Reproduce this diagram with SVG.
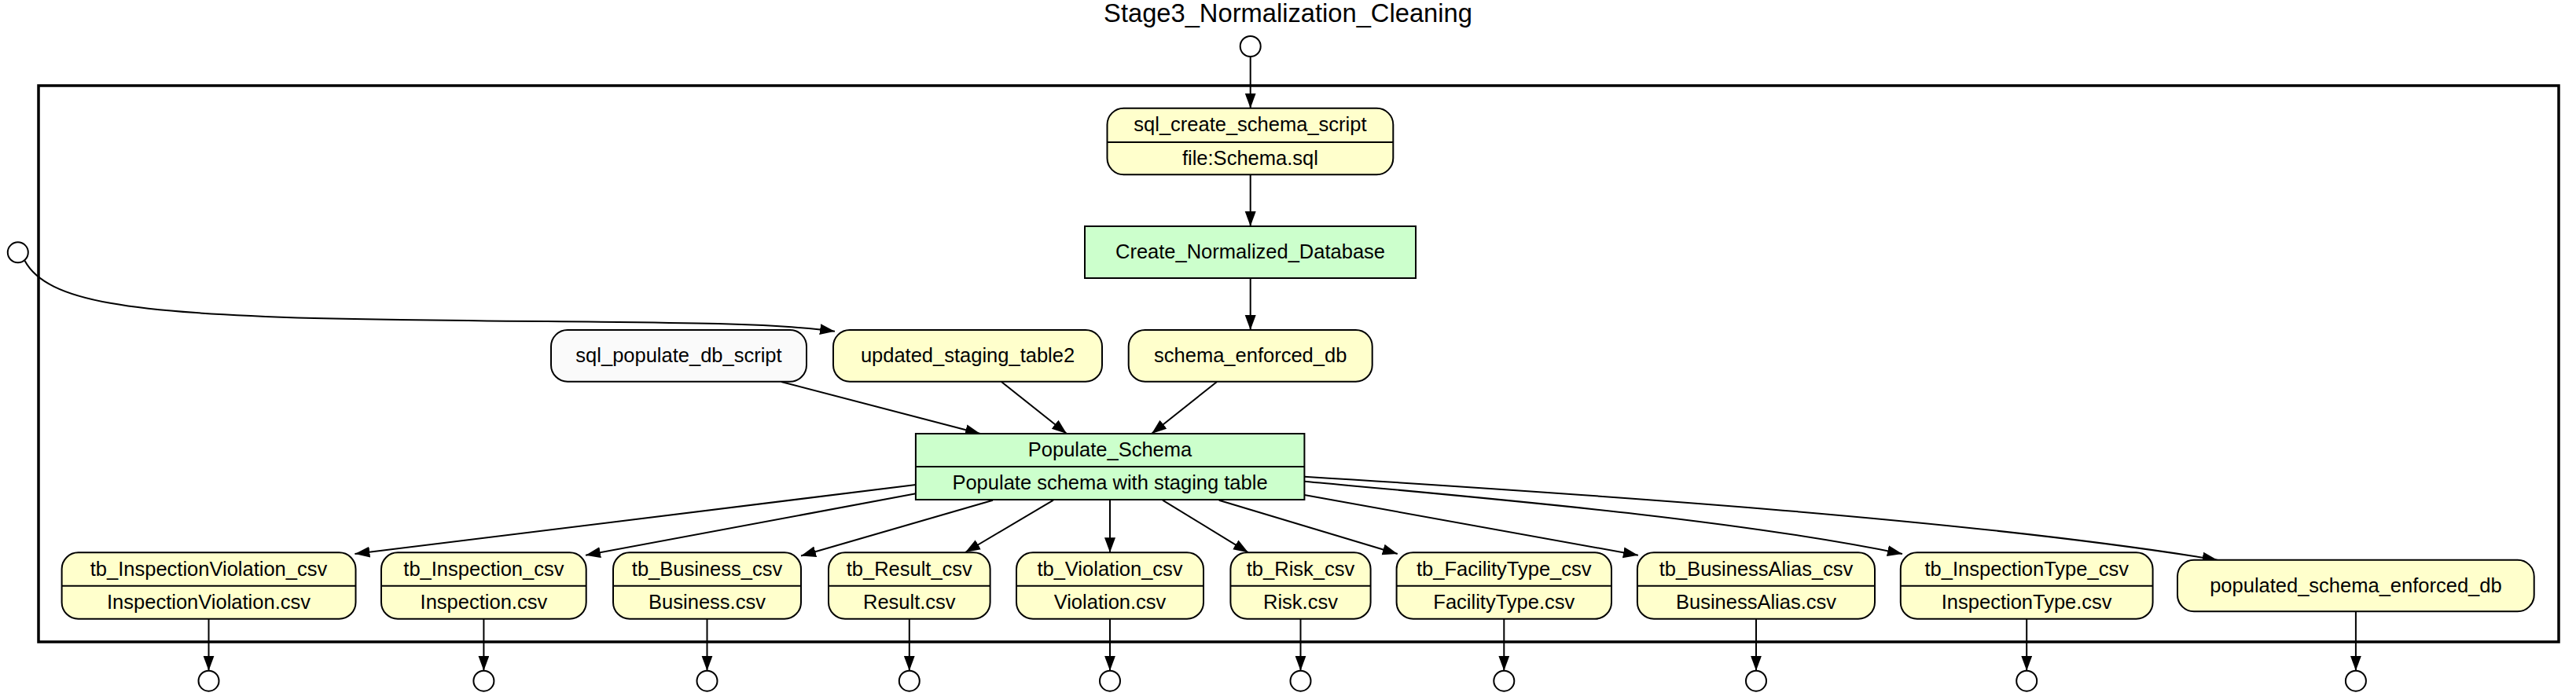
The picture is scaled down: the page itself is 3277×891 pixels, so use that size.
<svg xmlns="http://www.w3.org/2000/svg" width="3277" height="891" viewBox="0 0 3277 891">
<defs>
<marker id="arr" markerUnits="userSpaceOnUse" markerWidth="20" markerHeight="16" refX="19" refY="7" orient="auto">
<path d="M0,0 L19,7 L0,14 Z" fill="#000"/>
</marker>
<style>
text{font-family:"Liberation Sans",Arial,Helvetica,sans-serif;font-size:25.5px;fill:#000;text-anchor:middle}
.title{font-size:32.7px}
.y{fill:#ffffcc;stroke:#000;stroke-width:2}
.w{fill:#fafafa;stroke:#000;stroke-width:2}
.g{fill:#ccffcc;stroke:#000;stroke-width:2}
.d{stroke:#000;stroke-width:2;fill:none}
.c{fill:#fff;stroke:#000;stroke-width:2}
.e{fill:none;stroke:#000;stroke-width:2;marker-end:url(#arr)}
.cl{fill:none;stroke:#000;stroke-width:3.5}
</style>
</defs>
<rect width="3277" height="891" fill="#fff"/>
<g id="cluster">
<rect class="cl" x="49" y="109" width="3206" height="708"/>
<text class="title" x="1638.5" y="28.3">Stage3_Normalization_Cleaning</text>
</g>
<g id="connectors">
<path class="e" d="M1590.7,72 L1590.7,137.7"/>
<path class="e" d="M1590.7,222.3 L1590.7,288"/>
<path class="e" d="M1590.7,354 L1590.7,420"/>
<path class="e" d="M31.6,332 C60,385 170,398 400,405 C700,412 950,406 1062,421.7"/>
<path class="e" d="M994,486 L1247,552"/>
<path class="e" d="M1274,486 L1357,552"/>
<path class="e" d="M1548,486 L1465,552"/>
<path class="e" d="M1165,617 L451.4,705"/>
<path class="e" d="M1165,628.3 L745,706.7"/>
<path class="e" d="M1263,636.7 L1019,707.5"/>
<path class="e" d="M1340,636.7 L1228,703"/>
<path class="e" d="M1412,636.7 L1412,703.3"/>
<path class="e" d="M1479,636.7 L1588,703.3"/>
<path class="e" d="M1550.7,636.7 L1777.8,705"/>
<path class="e" d="M1659.4,630 L2083.9,706.7"/>
<path class="e" d="M1659.4,612.7 C1900,635 2200,660 2420,705"/>
<path class="e" d="M1659.4,606.7 C2000,628 2500,660 2820.7,712.7"/>
<path class="e" d="M265.5,787.7 L265.5,853.7"/>
<path class="e" d="M615.4,787.7 L615.4,853.7"/>
<path class="e" d="M899.5,787.7 L899.5,853.7"/>
<path class="e" d="M1156.8,787.7 L1156.8,853.7"/>
<path class="e" d="M1412,787.7 L1412,853.7"/>
<path class="e" d="M1654.5,787.7 L1654.5,853.7"/>
<path class="e" d="M1913.3,787.7 L1913.3,853.7"/>
<path class="e" d="M2234,787.7 L2234,853.7"/>
<path class="e" d="M2578.2,787.7 L2578.2,853.7"/>
<path class="e" d="M2996.9,778.3 L2996.9,853.7"/>
</g>
<g id="in_top"><circle class="c" cx="1590.7" cy="59" r="13"/></g>
<g id="in_left"><circle class="c" cx="22.8" cy="321.3" r="13"/></g>
<g id="sql_create_schema_script">
<rect class="y" x="1408.5" y="137.7" width="363.8" height="84.6" rx="21"/>
<line class="d" x1="1408.5" y1="181" x2="1772.3" y2="181"/>
<text x="1590.4" y="167.3">sql_create_schema_script</text>
<text x="1590.4" y="209.7">file:Schema.sql</text>
</g>
<g id="Create_Normalized_Database">
<rect class="g" x="1380" y="288" width="421" height="66"/>
<text x="1590.5" y="329">Create_Normalized_Database</text>
</g>
<g id="sql_populate_db_script">
<rect class="w" x="701" y="420" width="325" height="65.7" rx="21"/>
<text x="863.5" y="460.8">sql_populate_db_script</text>
</g>
<g id="updated_staging_table2">
<rect class="y" x="1060" y="420" width="342" height="65.7" rx="21"/>
<text x="1231" y="460.8">updated_staging_table2</text>
</g>
<g id="schema_enforced_db">
<rect class="y" x="1435.7" y="420" width="310" height="65.7" rx="21"/>
<text x="1590.7" y="460.8">schema_enforced_db</text>
</g>
<g id="Populate_Schema">
<rect class="g" x="1164.9" y="552" width="494.5" height="84"/>
<line class="d" x1="1164.9" y1="594" x2="1659.4" y2="594"/>
<text x="1412" y="581">Populate_Schema</text>
<text x="1412" y="623">Populate schema with staging table</text>
</g>
<g id="tb_InspectionViolation_csv">
<rect class="y" x="78.6" y="703.3" width="373.9" height="84.4" rx="21"/>
<line class="d" x1="78.6" y1="745.7" x2="452.5" y2="745.7"/>
<text x="265.5" y="732.5">tb_InspectionViolation_csv</text>
<text x="265.5" y="774.7">InspectionViolation.csv</text>
</g>
<g id="tb_Inspection_csv">
<rect class="y" x="485" y="703.3" width="260.7" height="84.4" rx="21"/>
<line class="d" x1="485" y1="745.7" x2="745.7" y2="745.7"/>
<text x="615.4" y="732.5">tb_Inspection_csv</text>
<text x="615.4" y="774.7">Inspection.csv</text>
</g>
<g id="tb_Business_csv">
<rect class="y" x="780" y="703.3" width="239" height="84.4" rx="21"/>
<line class="d" x1="780" y1="745.7" x2="1019" y2="745.7"/>
<text x="899.5" y="732.5">tb_Business_csv</text>
<text x="899.5" y="774.7">Business.csv</text>
</g>
<g id="tb_Result_csv">
<rect class="y" x="1054" y="703.3" width="205.6" height="84.4" rx="21"/>
<line class="d" x1="1054" y1="745.7" x2="1259.6" y2="745.7"/>
<text x="1156.8" y="732.5">tb_Result_csv</text>
<text x="1156.8" y="774.7">Result.csv</text>
</g>
<g id="tb_Violation_csv">
<rect class="y" x="1293" y="703.3" width="238" height="84.4" rx="21"/>
<line class="d" x1="1293" y1="745.7" x2="1531" y2="745.7"/>
<text x="1412" y="732.5">tb_Violation_csv</text>
<text x="1412" y="774.7">Violation.csv</text>
</g>
<g id="tb_Risk_csv">
<rect class="y" x="1565.4" y="703.3" width="178.2" height="84.4" rx="21"/>
<line class="d" x1="1565.4" y1="745.7" x2="1743.6" y2="745.7"/>
<text x="1654.5" y="732.5">tb_Risk_csv</text>
<text x="1654.5" y="774.7">Risk.csv</text>
</g>
<g id="tb_FacilityType_csv">
<rect class="y" x="1776.6" y="703.3" width="273.4" height="84.4" rx="21"/>
<line class="d" x1="1776.6" y1="745.7" x2="2050" y2="745.7"/>
<text x="1913.3" y="732.5">tb_FacilityType_csv</text>
<text x="1913.3" y="774.7">FacilityType.csv</text>
</g>
<g id="tb_BusinessAlias_csv">
<rect class="y" x="2082.9" y="703.3" width="302.1" height="84.4" rx="21"/>
<line class="d" x1="2082.9" y1="745.7" x2="2385" y2="745.7"/>
<text x="2234" y="732.5">tb_BusinessAlias_csv</text>
<text x="2234" y="774.7">BusinessAlias.csv</text>
</g>
<g id="tb_InspectionType_csv">
<rect class="y" x="2417.8" y="703.3" width="320.8" height="84.4" rx="21"/>
<line class="d" x1="2417.8" y1="745.7" x2="2738.6" y2="745.7"/>
<text x="2578.2" y="732.5">tb_InspectionType_csv</text>
<text x="2578.2" y="774.7">InspectionType.csv</text>
</g>
<g id="populated_schema_enforced_db">
<rect class="y" x="2770" y="712.7" width="453.7" height="65.6" rx="21"/>
<text x="2996.9" y="753.5">populated_schema_enforced_db</text>
</g>
<g id="outputs">
<circle class="c" cx="265.5" cy="866.7" r="13"/>
<circle class="c" cx="615.4" cy="866.7" r="13"/>
<circle class="c" cx="899.5" cy="866.7" r="13"/>
<circle class="c" cx="1156.8" cy="866.7" r="13"/>
<circle class="c" cx="1412" cy="866.7" r="13"/>
<circle class="c" cx="1654.5" cy="866.7" r="13"/>
<circle class="c" cx="1913.3" cy="866.7" r="13"/>
<circle class="c" cx="2234" cy="866.7" r="13"/>
<circle class="c" cx="2578.2" cy="866.7" r="13"/>
<circle class="c" cx="2996.9" cy="866.7" r="13"/>
</g>
</svg>
